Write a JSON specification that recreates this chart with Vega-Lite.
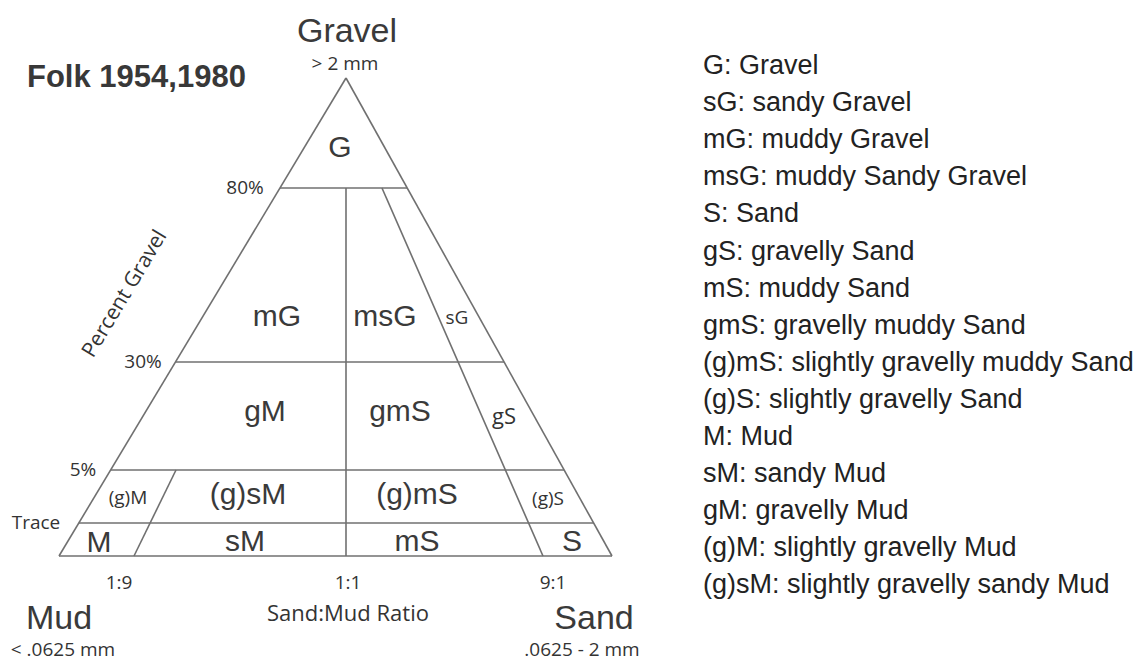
{
  "$schema": "https://vega.github.io/schema/vega-lite/v6.json",
  "width": 1143,
  "height": 663,
  "autosize": {"type": "fit", "contains": "padding"},
  "padding": 0,
  "background": "white",
  "config": {"view": {"stroke": null}},
  "datasets": {
    "segments": [
      {"name": "left edge", "x": 346, "y": 78, "x2": 59, "y2": 556},
      {"name": "right edge", "x": 346, "y": 78, "x2": 612, "y2": 556},
      {"name": "base", "x": 59, "y": 556, "x2": 612, "y2": 556},
      {"name": "80%", "x": 280, "y": 188, "x2": 407, "y2": 188},
      {"name": "30%", "x": 176, "y": 362, "x2": 504, "y2": 362},
      {"name": "5%", "x": 111, "y": 470, "x2": 564, "y2": 470},
      {"name": "trace", "x": 79, "y": 523, "x2": 594, "y2": 523},
      {"name": "1:1", "x": 346, "y": 188, "x2": 346, "y2": 556},
      {"name": "1:9", "x": 176, "y": 470, "x2": 134, "y2": 556},
      {"name": "9:1", "x": 382, "y": 188, "x2": 543, "y2": 556}
    ],
    "labels": [
      {"kind": "corner", "text": "Gravel", "x": 347, "y": 42},
      {"kind": "corner", "text": "Mud", "x": 59, "y": 629},
      {"kind": "corner", "text": "Sand", "x": 594, "y": 629},
      {"kind": "title", "text": "Folk 1954,1980", "x": 27, "y": 87},
      {"kind": "region", "text": "G", "x": 340, "y": 157},
      {"kind": "region", "text": "mG", "x": 277, "y": 326},
      {"kind": "region", "text": "msG", "x": 385, "y": 326},
      {"kind": "region", "text": "gM", "x": 265, "y": 421},
      {"kind": "region", "text": "gmS", "x": 400, "y": 421},
      {"kind": "region", "text": "(g)sM", "x": 248, "y": 504},
      {"kind": "region", "text": "(g)mS", "x": 417, "y": 504},
      {"kind": "region", "text": "M", "x": 99, "y": 552},
      {"kind": "region", "text": "sM", "x": 245, "y": 551},
      {"kind": "region", "text": "mS", "x": 417, "y": 551},
      {"kind": "region", "text": "S", "x": 572, "y": 551},
      {"kind": "small", "text": "> 2 mm", "x": 345, "y": 70},
      {"kind": "small", "text": "80%", "x": 245, "y": 194},
      {"kind": "small", "text": "30%", "x": 143, "y": 368},
      {"kind": "small", "text": "5%", "x": 83, "y": 476},
      {"kind": "small", "text": "Trace", "x": 36, "y": 529},
      {"kind": "small", "text": "1:9", "x": 119, "y": 589},
      {"kind": "small", "text": "1:1", "x": 348, "y": 589},
      {"kind": "small", "text": "9:1", "x": 553, "y": 589},
      {"kind": "small", "text": "< .0625 mm", "x": 63, "y": 656},
      {"kind": "small", "text": ".0625 - 2 mm", "x": 582, "y": 656},
      {"kind": "mid", "text": "(g)M", "x": 128, "y": 504},
      {"kind": "mid", "text": "(g)S", "x": 548, "y": 505},
      {"kind": "mid", "text": "sG", "x": 457, "y": 324},
      {"kind": "large", "text": "gS", "x": 504, "y": 424},
      {"kind": "large", "text": "Sand:Mud Ratio", "x": 348, "y": 621},
      {"kind": "axis", "text": "Percent Gravel", "x": 125, "y": 294},
      {"kind": "legend", "text": "G: Gravel", "x": 703, "y": 74},
      {"kind": "legend", "text": "sG: sandy Gravel", "x": 703, "y": 111},
      {"kind": "legend", "text": "mG: muddy Gravel", "x": 703, "y": 148},
      {"kind": "legend", "text": "msG: muddy Sandy Gravel", "x": 703, "y": 185},
      {"kind": "legend", "text": "S: Sand", "x": 703, "y": 222},
      {"kind": "legend", "text": "gS: gravelly Sand", "x": 703, "y": 260},
      {"kind": "legend", "text": "mS: muddy Sand", "x": 703, "y": 297},
      {"kind": "legend", "text": "gmS: gravelly muddy Sand", "x": 703, "y": 334},
      {"kind": "legend", "text": "(g)mS: slightly gravelly muddy Sand", "x": 703, "y": 371},
      {"kind": "legend", "text": "(g)S: slightly gravelly Sand", "x": 703, "y": 408},
      {"kind": "legend", "text": "M: Mud", "x": 703, "y": 445},
      {"kind": "legend", "text": "sM: sandy Mud", "x": 703, "y": 482},
      {"kind": "legend", "text": "gM: gravelly Mud", "x": 703, "y": 519},
      {"kind": "legend", "text": "(g)M: slightly gravelly Mud", "x": 703, "y": 556},
      {"kind": "legend", "text": "(g)sM: slightly gravelly sandy Mud", "x": 703, "y": 593}
    ]
  },
  "encoding": {
    "x": {"field": "x", "type": "quantitative", "scale": {"domain": [0, 1143], "nice": false, "zero": false}, "axis": null},
    "y": {"field": "y", "type": "quantitative", "scale": {"domain": [0, 663], "nice": false, "zero": false, "reverse": true}, "axis": null}
  },
  "layer": [
    {
      "data": {"name": "segments"},
      "mark": {"type": "rule", "color": "#707070", "strokeWidth": 1.6},
      "encoding": {"x2": {"field": "x2"}, "y2": {"field": "y2"}}
    },
    {
      "data": {"name": "labels"},
      "transform": [{"filter": "datum.kind === 'corner'"}],
      "mark": {"type": "text", "font": "Liberation Sans", "fontSize": 34, "color": "#3a3a3a", "align": "center", "baseline": "alphabetic"},
      "encoding": {"text": {"field": "text"}}
    },
    {
      "data": {"name": "labels"},
      "transform": [{"filter": "datum.kind === 'title'"}],
      "mark": {"type": "text", "font": "Liberation Sans", "fontSize": 31, "fontWeight": "bold", "color": "#383838", "align": "left", "baseline": "alphabetic"},
      "encoding": {"text": {"field": "text"}}
    },
    {
      "data": {"name": "labels"},
      "transform": [{"filter": "datum.kind === 'region'"}],
      "mark": {"type": "text", "font": "Liberation Sans", "fontSize": 30, "color": "#3a3a3a", "align": "center", "baseline": "alphabetic"},
      "encoding": {"text": {"field": "text"}}
    },
    {
      "data": {"name": "labels"},
      "transform": [{"filter": "datum.kind === 'small'"}],
      "mark": {"type": "text", "font": "Open Sans", "fontSize": 19, "color": "#333333", "align": "center", "baseline": "alphabetic"},
      "encoding": {"text": {"field": "text"}}
    },
    {
      "data": {"name": "labels"},
      "transform": [{"filter": "datum.kind === 'mid'"}],
      "mark": {"type": "text", "font": "Open Sans", "fontSize": 19, "color": "#333333", "align": "center", "baseline": "alphabetic"},
      "encoding": {"text": {"field": "text"}}
    },
    {
      "data": {"name": "labels"},
      "transform": [{"filter": "datum.kind === 'large'"}],
      "mark": {"type": "text", "font": "Open Sans", "fontSize": 22, "color": "#333333", "align": "center", "baseline": "alphabetic"},
      "encoding": {"text": {"field": "text"}}
    },
    {
      "data": {"name": "labels"},
      "transform": [{"filter": "datum.kind === 'axis'"}],
      "mark": {"type": "text", "font": "Open Sans", "fontSize": 21, "color": "#333333", "align": "center", "baseline": "middle", "angle": -59},
      "encoding": {"text": {"field": "text"}}
    },
    {
      "data": {"name": "labels"},
      "transform": [{"filter": "datum.kind === 'legend'"}],
      "mark": {"type": "text", "font": "Liberation Sans", "fontSize": 27, "color": "#222222", "align": "left", "baseline": "alphabetic"},
      "encoding": {"text": {"field": "text"}}
    }
  ]
}
